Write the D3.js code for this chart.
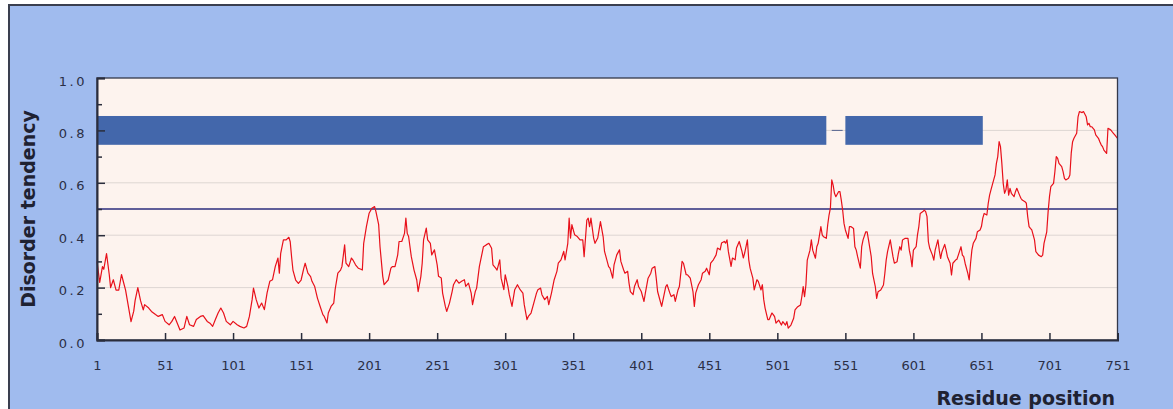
<!DOCTYPE html>
<html>
<head>
<meta charset="utf-8">
<script src="https://cdn.jsdelivr.net/npm/d3@7"></script>
<style>
  html, body { margin: 0; padding: 0; background: #ffffff; }
  svg { display: block; }
</style>
</head>
<body>
<svg id="chart" width="1173" height="409"></svg>
<script>
// ---------------- DATA ----------------
const residues = [
1,3,5,6,8,10,11,13,15,17,19,20,22,24,26,28,29,31,33,35,36,39,41,44,46,49,51,54,56,58,60,62,65,67,69,72,74,77,79,82,84,86,88,90,92,94,96,99,101,104,106,109,111,113,115,116,118,120,122,
124,126,128,130,132,134,135,136,138,140,142,143,144,145,147,149,151,153,154,156,158,159,161,163,165,167,168,170,171,173,175,176,178,180,181,183,184,186,188,189,191,193,195,196,197,199,201,203,205,206,208,209,211,212,213,215,217,218,220,222,223,225,227,228,229,230,232,234,236,237,239,240,241,243,244,246,247,
249,251,252,254,255,257,258,260,262,263,265,267,269,271,272,274,276,277,279,280,282,284,285,287,289,291,292,294,295,297,298,300,301,303,304,306,308,310,312,314,315,317,318,320,322,324,325,327,328,330,332,333,335,337,339,340,342,344,345,347,348,349,350,352,354,356,358,359,361,362,363,364,366,367,369,370,371,373,
374,375,377,378,380,381,383,385,386,388,389,391,392,393,395,396,398,399,401,402,403,404,406,408,409,411,412,413,415,416,418,419,420,422,423,425,426,428,429,431,432,434,435,437,439,440,441,443,445,446,448,449,451,452,454,456,457,459,460,462,463,464,465,467,468,470,471,473,475,476,477,479,480,481,483,484,486,487,489,490,491,492,494,495,497,498,
499,500,502,504,505,507,508,509,511,513,514,516,518,519,520,521,522,523,525,526,527,529,530,531,533,534,535,537,538,539,540,541,542,543,544,546,547,548,549,550,551,553,554,555,557,558,559,560,562,563,564,566,567,568,570,571,573,574,575,577,579,580,581,582,584,585,586,587,589,590,591,592,593,595,597,598,599,600,601,603,604,605,606,608,609,610,611,612,613,615,616,617,619,620,621,622,
624,625,626,628,629,630,632,633,634,636,637,638,639,641,642,643,644,645,647,648,650,651,652,653,655,656,657,658,659,661,662,663,664,665,666,667,668,669,670,671,672,673,675,676,677,679,680,681,683,684,685,686,687,688,690,691,692,693,695,696,697,699,700,701,702,704,705,706,707,708,710,711,712,713,715,716,717,718,719,721,722,723,725,726,728,729,730,731,732,734,735,737,738,739,740,741,743,744,746,747,748,749,750,751
];
const disorder = [
.30,.22,.28,.27,.33,.25,.20,.23,.19,.19,.25,.23,.19,.13,.07,.11,.15,.20,.15,.115,.135,.122,.109,.097,.090,.097,.071,.058,.071,.090,.064,.038,.046,.090,.058,.052,.078,.090,.093,.071,.064,.052,.078,.103,.122,.103,.071,.058,.071,.058,.052,.046,.052,.090,.154,.198,.154,.122,.141,
.116,.18,.224,.23,.28,.313,.255,.331,.382,.382,.392,.375,.318,.267,.229,.216,.229,.274,.293,.255,.242,.224,.204,.160,.128,.097,.090,.065,.103,.128,.141,.192,.255,.267,.28,.363,.293,.28,.313,.306,.287,.274,.27,.267,.369,.433,.484,.503,.509,.490,.44,.356,.243,.211,.217,.229,.274,.28,.28,.325,.376,.376,.407,.465,.407,.395,.318,.267,.229,.185,.242,.293,.382,.427,.382,.369,.325,
.344,.287,.243,.237,.179,.128,.109,.140,.185,.211,.230,.217,.224,.230,.205,.217,.179,.135,.185,.198,.280,.331,.356,.363,.369,.350,.287,.274,.267,.306,.236,.192,.249,.205,.173,.128,.192,.211,.192,.179,.135,.078,.090,.103,.141,.179,.192,.198,.173,.154,.166,.135,.179,.230,.262,.293,.306,.338,.306,.369,.465,.389,.440,.402,.395,.382,.382,.318,.458,.465,.433,.465,.389,.369,.389,.420,.452,.394,
.338,.319,.280,.274,.236,.287,.325,.344,.300,.268,.255,.262,.217,.185,.173,.204,.230,.204,.185,.166,.147,.179,.236,.255,.274,.280,.236,.185,.147,.128,.179,.204,.211,.179,.166,.173,.147,.191,.204,.300,.293,.249,.249,.236,.185,.128,.179,.211,.230,.255,.262,.274,.249,.293,.306,.325,.351,.344,.370,.376,.370,.382,.338,.281,.313,.306,.351,.376,.338,.313,.332,.382,.306,.274,.236,.191,.230,.224,.191,.211,.154,.122,.078,.078,.103,.097,
.089,.064,.076,.057,.070,.057,.070,.045,.057,.083,.115,.127,.134,.165,.204,.165,.210,.305,.343,.382,.343,.312,.356,.369,.433,.401,.394,.388,.439,.477,.503,.611,.591,.560,.547,.566,.566,.534,.496,.445,.420,.388,.433,.433,.426,.356,.343,.318,.274,.356,.382,.413,.413,.382,.318,.254,.204,.159,.184,.191,.210,.254,.305,.337,.382,.350,.318,.293,.299,.331,.356,.343,.382,.388,.388,.343,.318,.280,.343,.356,.401,.433,.483,.490,.496,.490,.471,.375,.350,.324,.305,.343,.382,.343,.311,.337,
.365,.344,.318,.293,.248,.293,.305,.308,.324,.356,.324,.318,.293,.254,.229,.293,.344,.369,.388,.413,.420,.433,.465,.483,.477,.522,.553,.573,.592,.630,.674,.700,.757,.738,.674,.598,.560,.573,.611,.553,.579,.560,.547,.566,.579,.553,.541,.534,.528,.522,.471,.433,.426,.420,.382,.337,.331,.324,.318,.324,.369,.413,.489,.547,.585,.598,.643,.700,.693,.674,.662,.643,.617,.611,.617,.630,.713,.757,.770,.789,.852,.872,.868,.872,.852,.821,.827,.814,.814,.802,.783,.770,.757,.745,.738,.725,.712,.808,.802,.795,.789,.783,.776,.77
];
const domainStart = [1, 551];
const domainEnd   = [537, 652];
const linkerStart = [541];
const linkerEnd   = [549];
const threshold = 0.5;
const xTickValues = [1,51,101,151,201,251,301,351,401,451,501,551,601,651,701,751];
const yMajorTicks = [0, 0.2, 0.4, 0.6, 0.8, 1.0];
const yMinorTicks = [0.1, 0.3, 0.5, 0.7, 0.9];
const gridValues  = [0.2, 0.4, 0.6, 0.8];
const xTitle = "Residue position";
const yTitle = "Disorder tendency";

// ---------------- LAYOUT ----------------
const svg = d3.select("#chart");
const W = 1173, H = 409;
const plot = { left: 97, right: 1117.5, top: 78, bottom: 340 };

const x = d3.scaleLinear().domain([1, 751]).range([plot.left, plot.right]);
const y = d3.scaleLinear().domain([0, 1]).range([plot.bottom, plot.top]);

// outer background + frame
svg.append("rect").attr("x", 0).attr("y", 0).attr("width", W).attr("height", H).attr("fill", "#ffffff");
svg.append("rect").attr("x", 9).attr("y", 5).attr("width", W + 20).attr("height", H + 20)
  .attr("fill", "#a0bbee").attr("stroke", "#3a3f4f").attr("stroke-width", 2);

// plot background
svg.append("rect")
  .attr("x", plot.left).attr("y", plot.top)
  .attr("width", plot.right - plot.left).attr("height", plot.bottom - plot.top)
  .attr("fill", "#fdf3ee");

// gridlines
svg.append("g").selectAll("line").data(gridValues).join("line")
  .attr("x1", plot.left).attr("x2", plot.right)
  .attr("y1", d => y(d)).attr("y2", d => y(d))
  .attr("stroke", "#ddd6d2").attr("stroke-width", 1);

// domain bars
const barHalf = 0.055;
svg.append("g").selectAll("rect").data(domainStart.map((s, i) => [s, domainEnd[i]])).join("rect")
  .attr("x", d => x(d[0])).attr("width", d => x(d[1]) - x(d[0]))
  .attr("y", y(0.8 + barHalf)).attr("height", y(0.8 - barHalf) - y(0.8 + barHalf))
  .attr("fill", "#4367ab");

// linker
svg.append("g").selectAll("line").data(linkerStart.map((s, i) => [s, linkerEnd[i]])).join("line")
  .attr("x1", d => x(d[0])).attr("x2", d => x(d[1]))
  .attr("y1", y(0.8)).attr("y2", y(0.8))
  .attr("stroke", "#55648f").attr("stroke-width", 1);

// threshold line
svg.append("line")
  .attr("x1", plot.left).attr("x2", plot.right)
  .attr("y1", y(threshold)).attr("y2", y(threshold))
  .attr("stroke", "#2b2d7c").attr("stroke-width", 1.5);

// disorder line
const pts = residues.map((r, i) => [r, disorder[i]]);
svg.append("path").datum(pts)
  .attr("fill", "none").attr("stroke", "#e8101a").attr("stroke-width", 1.2)
  .attr("stroke-linejoin", "round")
  .attr("d", d3.line().x(d => x(d[0])).y(d => y(d[1])));

// plot frame
svg.append("rect")
  .attr("x", plot.left).attr("y", plot.top)
  .attr("width", plot.right - plot.left).attr("height", plot.bottom - plot.top)
  .attr("fill", "none").attr("stroke", "#34384a").attr("stroke-width", 1.3);

// x axis (ticks inward)
const xAxis = svg.append("g").attr("transform", `translate(0,${plot.bottom})`)
  .call(d3.axisBottom(x).tickValues(xTickValues).tickSize(-7).tickFormat(d3.format("d")));
xAxis.select(".domain").attr("stroke", "#2a2d3c").attr("stroke-width", 2);
xAxis.selectAll(".tick line").attr("stroke", "#2a2d3c").attr("stroke-width", 1.5);
xAxis.selectAll(".tick text")
  .attr("y", 30).attr("dy", 0)
  .attr("fill", "#2b2f45")
  .style("font-family", "'DejaVu Sans', Verdana, sans-serif")
  .style("font-size", "13px");

// y axis minor ticks
const yMinor = svg.append("g").attr("transform", `translate(${plot.left},0)`)
  .call(d3.axisLeft(y).tickValues(yMinorTicks).tickSize(-5).tickFormat(""));
yMinor.select(".domain").remove();
yMinor.selectAll(".tick line").attr("stroke", "#2a2d3c").attr("stroke-width", 1.5);

// y axis major ticks + labels
const yAxis = svg.append("g").attr("transform", `translate(${plot.left},0)`)
  .call(d3.axisLeft(y).tickValues(yMajorTicks).tickSize(-8).tickPadding(10).tickFormat(d3.format(".1f")));
yAxis.select(".domain").attr("stroke", "#2a2d3c").attr("stroke-width", 2);
yAxis.selectAll(".tick line").attr("stroke", "#2a2d3c").attr("stroke-width", 1.5);
yAxis.selectAll(".tick text")
  .attr("dy", "0.55em")
  .attr("fill", "#2b2f45")
  .style("font-family", "'DejaVu Sans', Verdana, sans-serif")
  .style("font-size", "13px")
  .style("letter-spacing", "2.5px");

// titles
svg.append("text")
  .attr("x", 1115).attr("y", 405).attr("text-anchor", "end")
  .attr("fill", "#1f2232")
  .style("font-family", "'DejaVu Sans', Verdana, sans-serif")
  .style("font-weight", "bold").style("font-size", "19px")
  .text(xTitle);

svg.append("text")
  .attr("transform", "translate(35,209) rotate(-90)")
  .attr("text-anchor", "middle")
  .attr("fill", "#1f2232")
  .style("font-family", "'DejaVu Sans', Verdana, sans-serif")
  .style("font-weight", "bold").style("font-size", "19px")
  .text(yTitle);
</script>
</body>
</html>
